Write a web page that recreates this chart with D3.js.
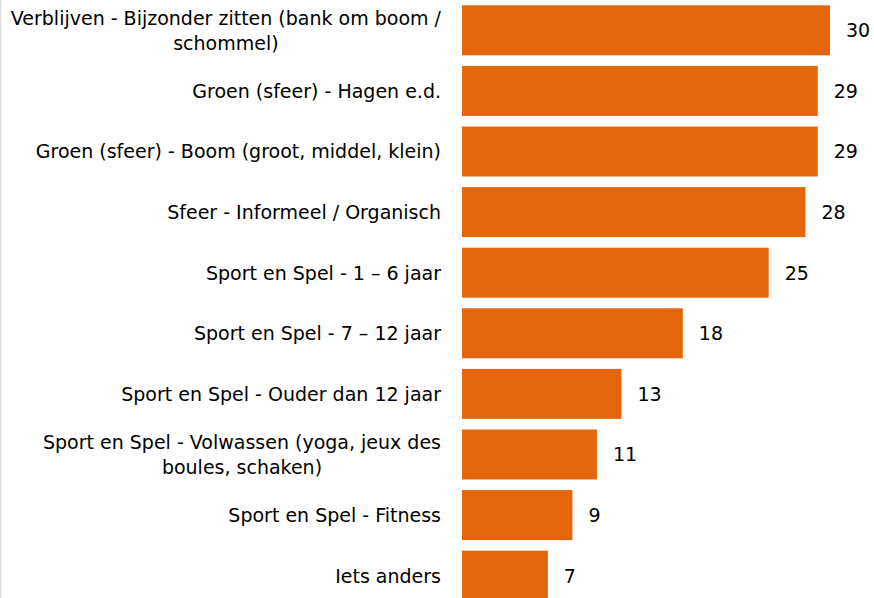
<!DOCTYPE html>
<html>
<head>
<meta charset="utf-8">
<script src="https://cdn.jsdelivr.net/npm/d3@7"></script>
<style>
  body { margin: 0; background: #fff; }
  svg { display: block; }
</style>
</head>
<body>
<script>
    // categories, top to bottom ("\n" = line break as in the original)
    const categories = [
        "Verblijven - Bijzonder zitten (bank om boom /\nschommel)",
        "Groen (sfeer) - Hagen e.d.",
        "Groen (sfeer) - Boom (groot, middel, klein)",
        "Sfeer - Informeel / Organisch",
        "Sport en Spel - 1 \u2013 6 jaar",
        "Sport en Spel - 7 \u2013 12 jaar",
        "Sport en Spel - Ouder dan 12 jaar",
        "Sport en Spel - Volwassen (yoga, jeux des\nboules, schaken)",
        "Sport en Spel - Fitness",
        "Iets anders"
    ];
    const values = [30, 29, 29, 28, 25, 18, 13, 11, 9, 7];

    const w = 874;
    const h = 598;
    const x0 = 462;   // where the bars start

    const svg = d3.select("body").append("svg")
        .attr("width", w)
        .attr("height", h);

    // light frame line on the left
    svg.append("line")
        .attr("x1", 0.5).attr("x2", 0.5)
        .attr("y1", 0).attr("y2", h)
        .attr("stroke", "#d9d9d9")
        .attr("stroke-width", 1.5);

    const xScale = d3.scaleLinear()
        .domain([0, 30])
        .range([x0, 830]);

    const yScale = d3.scaleBand()
        .domain(categories)
        .range([0, 606])
        .paddingInner(0.175)
        .paddingOuter(0.0875);

    const font = "Tahoma, 'DejaVu Sans', sans-serif";
    const fs = 19;

    //bars
    svg.selectAll("rect.bar")
        .data(values)
        .enter()
        .append("rect")
        .attr("class", "bar")
        .attr("x", xScale(0))
        .attr("y", (d, i) => yScale(categories[i]))
        .attr("width", d => xScale(d) - xScale(0))
        .attr("height", yScale.bandwidth())
        .attr("fill", "#e5650c");

    //value labels
    svg.selectAll("text.val")
        .data(values)
        .enter()
        .append("text")
        .attr("class", "val")
        .attr("x", d => xScale(d) + 16)
        .attr("y", (d, i) => yScale(categories[i]) + yScale.bandwidth() / 2)
        .attr("dy", "0.36em")
        .attr("font-family", font)
        .attr("font-size", fs)
        .attr("fill", "#000")
        .text(d => d);

    //category labels, right aligned, multi-line ones centred as a block
    const lineH = 25;
    categories.forEach((c, i) => {
        const lines = c.split("\n");
        const cy = yScale(c) + yScale.bandwidth() / 2;
        const t = svg.append("text")
            .attr("font-family", font)
            .attr("font-size", fs)
            .attr("fill", "#000");
        lines.forEach((s, j) => {
            t.append("tspan")
                .attr("y", cy + (j - (lines.length - 1) / 2) * lineH)
                .attr("dy", "0.36em")
                .text(s);
        });
        // place: block right edge at 441, each line centred within block
        const spans = t.selectAll("tspan").nodes();
        const widths = spans.map(n => n.getComputedTextLength());
        const bw = d3.max(widths);
        spans.forEach((n, j) => {
            d3.select(n).attr("x", 441 - bw + (bw - widths[j]) / 2);
        });
    });
</script>
</body>
</html>
